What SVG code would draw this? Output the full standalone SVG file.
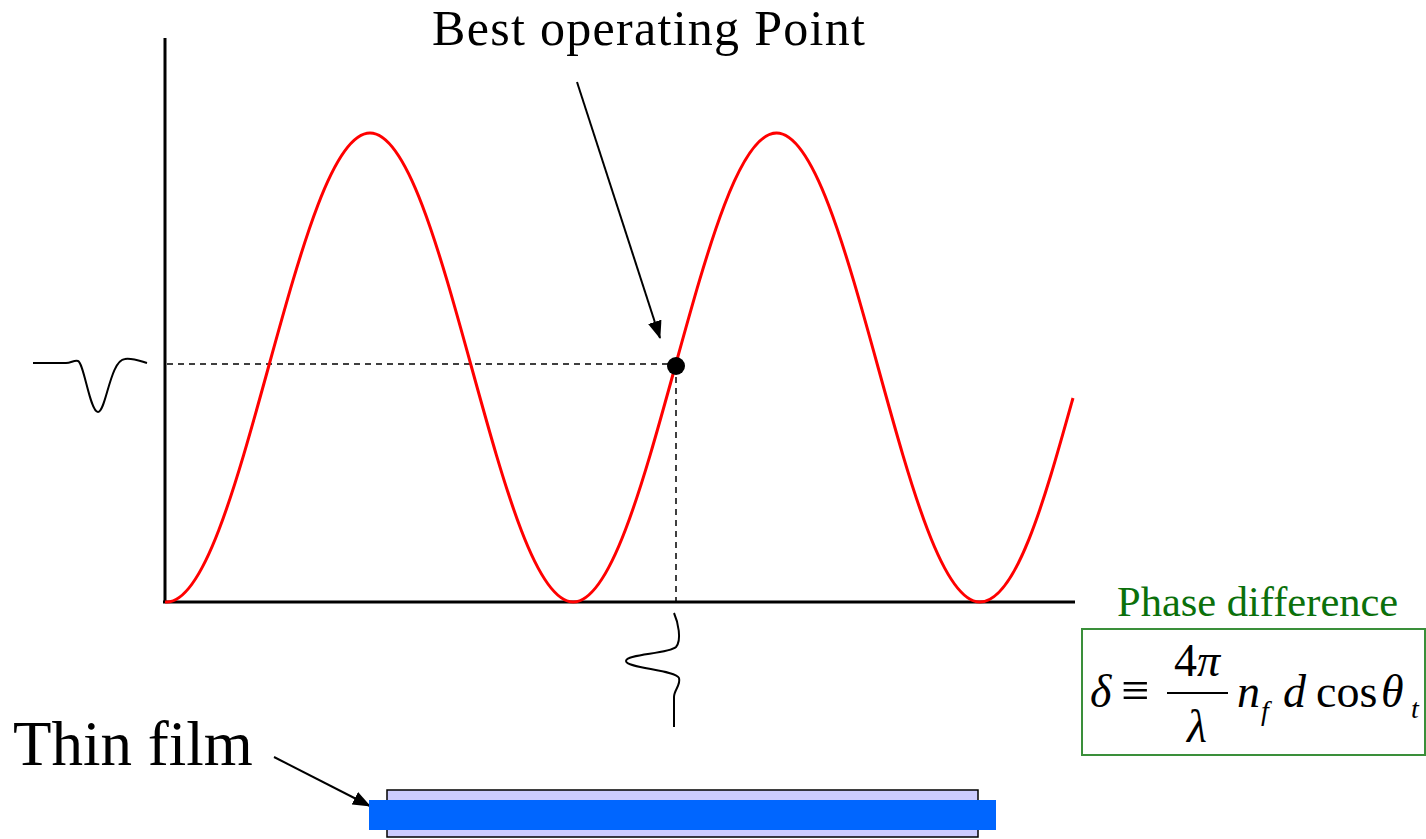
<svg xmlns="http://www.w3.org/2000/svg" width="1426" height="839" viewBox="0 0 1426 839">
<style>
text{font-family:"Liberation Serif","Times New Roman","DejaVu Serif",serif;fill:#000}
.it{font-style:italic}
.axis{stroke:#000;stroke-width:3;fill:none}
.dash{stroke:#000;stroke-width:1.5;stroke-dasharray:6 5;fill:none}
.wave{stroke:#000;stroke-width:2;fill:none}
.arrow{stroke:#000;stroke-width:2;fill:none;marker-end:url(#ah)}
</style>
<defs>
<marker id="ah" markerUnits="userSpaceOnUse" markerWidth="18" markerHeight="14" viewBox="0 0 18 14" refX="17" refY="7" orient="auto">
<path d="M0,0 L18,7 L0,14 Z" fill="#000"/>
</marker>
</defs>
<rect width="1426" height="839" fill="#fff"/>
<g id="axes">
<line class="axis" x1="165" y1="38" x2="165" y2="603"/>
<line class="axis" x1="163" y1="602" x2="1075" y2="602"/>
</g>
<g id="guides">
<line class="dash" x1="167" y1="364" x2="676" y2="364"/>
<line class="dash" x1="676" y1="366" x2="676" y2="602"/>
</g>
<g id="curve">
<path fill="none" stroke="#ff0000" stroke-width="3" stroke-linejoin="round" d="M165,602 L166.75,602 C203.53,602 235.23,487.6 268.375,367.5 C301.53,247.4 333.23,133 370,133 C406.78,133 438.48,247.4 471.625,367.5 C504.78,487.6 536.48,602 573.25,602 C610.03,602 641.73,487.6 674.875,367.5 C708.03,247.4 739.73,133 776.5,133 C813.28,133 844.98,247.4 878.125,367.5 C911.28,487.6 942.98,602 979.75,602 C1016.5,602 1045,498 1073,398"/>
</g>
<g id="operating-point">
<circle cx="676" cy="366" r="9" fill="#000"/>
</g>
<g id="input-pulse">
<path class="wave" d="M33,363 L66,363 C71,363 74,360 78,361 C84,363 90,412 98,412 C106,412 110,360 125,359 C133,358 140,361 147,363"/>
</g>
<g id="output-pulse">
<path class="wave" d="M674,613 C678,622 682,640 676,647 C668,654 626,654 626,661 C626,668 676,670 679,678 C681,685 674,690 674,697 L674,727"/>
</g>
<g id="connectors">
<line class="arrow" x1="577" y1="82" x2="660" y2="338"/>
<line class="arrow" x1="274" y1="757" x2="370" y2="806"/>
</g>
<g id="title">
<text x="432" y="45" font-size="50" textLength="433">Best operating Point</text>
</g>
<g id="thin-film-label">
<text x="13" y="765" font-size="63">Thin film</text>
</g>
<g id="thin-film">
<rect x="387" y="790" width="591" height="47" fill="#ccccff" stroke="#000" stroke-width="1.5"/>
<rect x="369" y="800" width="627" height="30" fill="#0066ff"/>
</g>
<g id="phase-difference">
<text x="1117" y="616" font-size="42.5" style="fill:#0b700b">Phase difference</text>
<rect x="1082" y="629" width="343" height="126" fill="#fff" stroke="#3a8f3a" stroke-width="2"/>
<text class="it" x="1090" y="707" font-size="46">δ</text>
<text x="1121" y="707" font-size="50">≡</text>
<line x1="1167" y1="693" x2="1228" y2="693" stroke="#000" stroke-width="2"/>
<text x="1197" y="676" font-size="46" text-anchor="middle">4<tspan font-style="italic">π</tspan></text>
<text class="it" x="1197" y="742" font-size="46" text-anchor="middle">λ</text>
<text class="it" x="1237" y="707" font-size="46">n</text>
<text class="it" x="1261" y="720" font-size="28">f</text>
<text class="it" x="1283" y="707" font-size="46">d</text>
<text x="1316" y="707" font-size="46">cos</text>
<text class="it" x="1381" y="707" font-size="46">θ</text>
<text class="it" x="1411" y="718" font-size="28">t</text>
</g>
</svg>
